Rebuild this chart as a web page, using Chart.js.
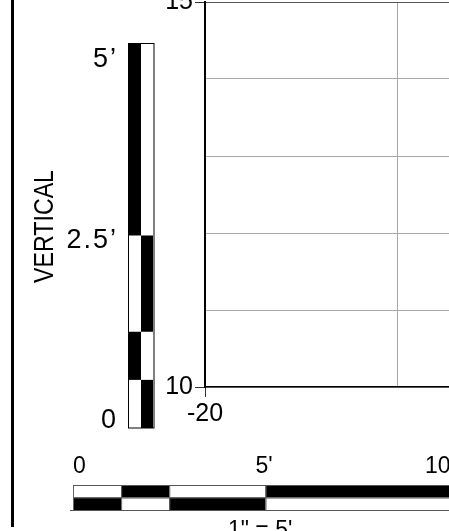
<!DOCTYPE html>
<html>
<head>
<meta charset="utf-8">
<script src="https://cdn.jsdelivr.net/npm/chart.js@4"></script>
<style>
  html, body { margin: 0; padding: 0; background: #fff; overflow: hidden; width: 449px; height: 531px; position: relative; }
  #wrap { position: absolute; left: 0; top: -20px; }
</style>
</head>
<body>
<div id="wrap"><canvas id="chart" width="620" height="551"></canvas></div>
<script>
// section grid (feet)
const xRange = [-20, -10];
const yRange = [10, 15];
const xStep = 5;
const yStep = 1;
const xLabeled = [-20, -10];
const yLabeled = [10, 15];

// graphic scales (feet)
const vBarEdges = [0, 0.625, 1.25, 2.5, 5];
const vBarTicks = [0, 2.5, 5];
const vBarLabels = ["0", "2.5\u2019", "5\u2019"];
const hBarEdges = [0, 1.25, 2.5, 5, 10];
const hBarTicks = [0, 5, 10];
const hBarLabels = ["0", "5'", "10"];
const scaleNote = '1" = 5\'';
const vTitle = "VERTICAL";

const TOP = 20; // canvas sits 20px above the page edge

const scaleBars = {
  id: "scaleBars",
  afterDraw(chart) {
    const ctx = chart.ctx;
    const xs = chart.scales.x, ys = chart.scales.y;
    const pxX = (xs.getPixelForValue(xRange[0] + xStep) - xs.getPixelForValue(xRange[0])) / xStep;
    const pxY = (ys.getPixelForValue(yRange[0]) - ys.getPixelForValue(yRange[0] + yStep)) / yStep;
    ctx.save();

    // sheet border
    ctx.fillStyle = "#000";
    ctx.fillRect(11, 0, 3, 527 + TOP);

    // vertical bar
    const vx = 128, vw = 13, vb = 428 + TOP;
    for (let i = 0; i < vBarEdges.length - 1; i++) {
      const y0 = vb - vBarEdges[i] * pxY, y1 = vb - vBarEdges[i + 1] * pxY;
      ctx.fillStyle = "#000";
      if (i % 2 === 1) ctx.fillRect(vx, y1, vw, y0 - y1);
      else ctx.fillRect(vx + vw, y1, vw - 1, y0 - y1);
    }
    const vTop = vb - vBarEdges[vBarEdges.length - 1] * pxY;
    ctx.strokeStyle = "#000";
    ctx.lineWidth = 1;
    ctx.strokeRect(vx + 0.5, vTop + 0.5, 2 * vw - 0.5, vb - vTop - 0.5);

    ctx.font = '27px "Liberation Sans"';
    ctx.letterSpacing = "2px";
    ctx.textAlign = "right";
    ctx.textBaseline = "alphabetic";
    const vDy = [0, 12, 24];
    vBarTicks.forEach((v, i) => {
      ctx.fillText(vBarLabels[i], 118, vb - v * pxY + vDy[i]);
    });
    ctx.letterSpacing = "0px";

    // horizontal bar
    const hx = 73, hh = 12.5, ht = 485 + TOP;
    for (let i = 0; i < hBarEdges.length - 1; i++) {
      const x0 = hx + hBarEdges[i] * pxX, x1 = hx + hBarEdges[i + 1] * pxX;
      ctx.fillStyle = "#000";
      if (i % 2 === 1) ctx.fillRect(x0, ht, x1 - x0, hh);
      else ctx.fillRect(x0, ht + hh, x1 - x0, hh);
      ctx.fillStyle = "#666";
      ctx.fillRect(x0, ht, 1, 2 * hh);
    }
    const hEnd = hx + hBarEdges[hBarEdges.length - 1] * pxX;
    ctx.fillStyle = "#555";
    ctx.fillRect(hx, ht, hEnd - hx, 1);
    ctx.fillRect(hx, ht + hh, hEnd - hx, 1);
    ctx.fillRect(hx - 3, ht + 2 * hh, hEnd - hx + 3, 1);

    ctx.fillStyle = "#000";
    ctx.font = '23px "Liberation Sans"';
    ctx.textAlign = "left";
    const hDx = [0, -10, -33];
    hBarTicks.forEach((v, i) => {
      ctx.fillText(hBarLabels[i], hx + v * pxX + hDx[i], 473 + TOP);
    });
    ctx.fillText(scaleNote, 228, 537 + TOP);

    // rotated title
    ctx.translate(53, 226.5 + TOP);
    ctx.rotate(-Math.PI / 2);
    ctx.font = '28px "Liberation Sans"';
    const w = ctx.measureText(vTitle).width;
    ctx.scale(113 / w, 1);
    ctx.textAlign = "center";
    ctx.fillText(vTitle, 0, 0);
    ctx.restore();
  }
};

new Chart(document.getElementById("chart"), {
  type: "scatter",
  data: { datasets: [{ data: [] }] },
  options: {
    responsive: false,
    animation: false,
    devicePixelRatio: 1,
    layout: { padding: { left: 0, top: 22, right: 30, bottom: 100 } },
    plugins: { legend: { display: false }, tooltip: { enabled: false } },
    scales: {
      x: {
        type: "linear",
        min: xRange[0],
        max: xRange[1],
        afterFit: s => { s.height = 44; },
        ticks: {
          stepSize: xStep,
          autoSkip: false,
          maxRotation: 0,
          padding: 2,
          color: "#000",
          font: { family: "Liberation Sans", size: 25 },
          callback: v => xLabeled.includes(v) ? String(v) : ""
        },
        grid: {
          color: "#a8a8a8",
          lineWidth: 1,
          tickLength: 10,
          tickColor: c => xLabeled.includes(c.tick && c.tick.value) ? "#333" : "rgba(0,0,0,0)"
        },
        border: { color: "#000", width: 1.5 }
      },
      y: {
        type: "linear",
        min: yRange[0],
        max: yRange[1],
        afterFit: s => { s.width = 205; },
        ticks: {
          stepSize: yStep,
          autoSkip: false,
          padding: 2,
          color: "#000",
          font: { family: "Liberation Sans", size: 25 },
          callback: v => yLabeled.includes(v) ? String(v) : ""
        },
        grid: {
          color: c => c.tick && c.tick.value === yRange[1] ? "#555" : "#a8a8a8",
          lineWidth: 1,
          tickLength: 10,
          tickColor: c => yLabeled.includes(c.tick && c.tick.value) ? "#333" : "rgba(0,0,0,0)"
        },
        border: { color: "#000", width: 2 }
      }
    }
  },
  plugins: [scaleBars]
});
</script>
</body>
</html>
